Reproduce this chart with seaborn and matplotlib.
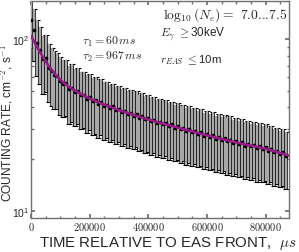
import numpy as np
import matplotlib
matplotlib.use("Agg")
import matplotlib.pyplot as plt
import seaborn as sns
from matplotlib.ticker import FixedLocator, MultipleLocator, FuncFormatter, LogFormatterMathtext

# time bins (microseconds), 10 ms steps
time_us = np.arange(0, 880000, 10000)

rate = [128, 112, 95, 86, 76, 77, 68, 65, 62, 61,
        57, 55, 55.5, 51, 52, 49, 50, 47, 47.5, 45,
        46, 43.5, 44, 42, 43, 41, 41.5, 39.5, 40.5, 38.5,
        39, 37.5, 38.3, 36.5, 37.2, 35.8, 36.5, 34.8, 35.5, 34,
        34.6, 33.2, 33.8, 32.5, 33.1, 31.8, 32.5, 31, 31.8, 30.4,
        31, 29.8, 30.5, 29.1, 29.8, 28.6, 29.3, 28, 28.6, 27.4,
        28, 26.9, 27.5, 26.3, 27, 25.9, 26.5, 25.4, 26, 24.9,
        25.4, 24.5, 25, 24, 24.6, 23.7, 24.2, 23.2, 23.8, 22.9,
        23.4, 22.4, 22.9, 21.9, 22.4, 21.4, 21.9, 21]

rate_err = [40, 38, 34, 31, 28, 28, 25, 24, 23, 22,
            21, 20, 20, 19, 19, 18, 18, 17, 17, 16.5,
            16.5, 16, 16, 15.5, 15.5, 15, 15, 14.5, 14.5, 14,
            14, 13.5, 13.8, 13.2, 13.4, 13, 13.1, 12.6, 12.8, 12.3,
            12.5, 12, 12.2, 11.8, 11.9, 11.5, 11.7, 11.2, 11.4, 11,
            11.2, 10.8, 11, 10.5, 10.7, 10.3, 10.5, 10.1, 10.3, 9.9,
            10.1, 9.7, 9.9, 9.5, 9.7, 9.3, 9.5, 9.2, 9.4, 9,
            9.1, 8.8, 9, 8.7, 8.9, 8.5, 8.7, 8.4, 8.6, 8.2,
            8.4, 8.1, 8.2, 7.9, 8.1, 7.7, 7.9, 7.6]

# fitted curve
fit_t = [0, 10000, 20000, 30000, 40000, 50000, 60000, 80000, 100000, 120000,
         150000, 200000, 250000, 300000, 400000, 500000, 600000, 700000, 800000, 880000]
fit_rate = [104, 97, 90, 84, 79, 74, 70, 63, 58, 54,
            50, 45, 41.5, 38.5, 34, 30.5, 27.5, 25, 23, 21]

sns.set_theme(style="ticks")
plt.rcParams["mathtext.fontset"] = "cm"
plt.rcParams["font.family"] = ["Liberation Sans", "DejaVu Sans"]

fig = plt.figure(figsize=(2.99, 2.53), dpi=100)
ax = fig.add_axes([31 / 299, 1 - 219 / 253, 258 / 299, 217 / 253])

# outlined grey error bars: black underneath, grey on top
ax.errorbar(time_us, rate, yerr=rate_err, fmt="none", ecolor="black",
            elinewidth=2.6, capsize=2, capthick=0.8, zorder=2)
ax.errorbar(time_us, rate, yerr=rate_err, fmt="none", ecolor="#a8a8a8",
            elinewidth=1.6, capsize=0, zorder=3)
sns.scatterplot(x=time_us, y=rate, color="black", s=7, linewidth=0, ax=ax, zorder=4)
sns.lineplot(x=fit_t, y=fit_rate, color="#9a1a8c", lw=1.8, ax=ax, zorder=5)

ax.set_yscale("log")
ax.set_xlim(0, 880000)
ax.set_ylim(9.1, 166)

ax.xaxis.set_major_locator(FixedLocator([0, 200000, 400000, 600000, 800000]))
ax.xaxis.set_minor_locator(MultipleLocator(50000))
ax.xaxis.set_major_formatter(FuncFormatter(lambda v, p: "$%d$" % int(v)))
ax.yaxis.set_major_formatter(LogFormatterMathtext())
ax.tick_params(which="both", direction="in", top=True, right=True,
               color="#707070", labelsize=7.5, pad=1.5)
ax.tick_params(which="major", length=3)
ax.tick_params(which="minor", length=1.8)
for s in ax.spines.values():
    s.set_color("#707070")
    s.set_linewidth(1.0)

ax.set_xlabel(r"TIME RELATIVE TO EAS FRONT,  $\mu s$", fontsize=10.8)
ax.xaxis.set_label_coords(0.53, -0.072)
ax.set_ylabel(r"COUNTING RATE, cm$^{-2}$, s$^{-1}$", fontsize=8.6)
ax.yaxis.set_label_coords(-0.062, 0.44)

tx = lambda x, y: (x / 299, 1 - y / 253)
fig.text(*tx(287, 15), r"$\log_{10}(N_e) =$ 7.0...7.5", family="cmr10",
         fontsize=9.8, ha="right", va="center")
fig.text(*tx(160, 34), r"$E_\gamma$ $\geq$30keV", fontsize=8.5, ha="left", va="center")
fig.text(*tx(160, 60), r"$r_{EAS}$ $\leq$10m", fontsize=8.2, ha="left", va="center")
fig.text(*tx(82, 42), r"$\tau_1 = 60\,ms$", fontsize=8.5, ha="left", va="center")
fig.text(*tx(82, 57), r"$\tau_2 = 967\,ms$", fontsize=8.5, ha="left", va="center")

fig.savefig("out.png", dpi=100)
